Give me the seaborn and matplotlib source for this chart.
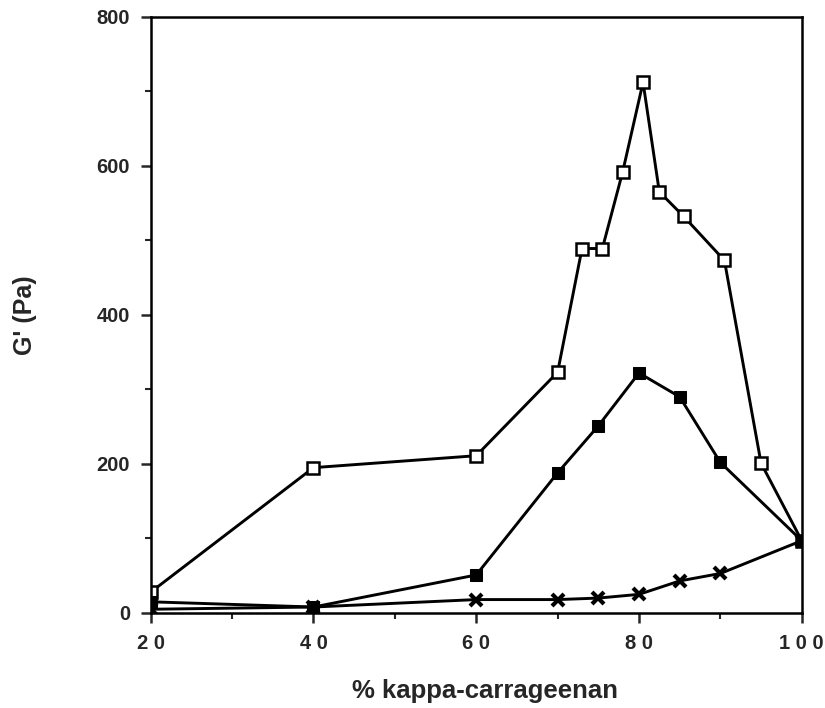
import matplotlib
matplotlib.use("Agg")
import matplotlib.pyplot as plt
from matplotlib.ticker import MultipleLocator
import seaborn as sns
import pandas as pd

# G' of mixed gels vs. kappa-carrageenan fraction
x_open = [20, 40, 60, 70, 73, 75.5, 78, 80.5, 82.5, 85.5, 90.5, 95, 100]
g_open = [28, 195, 211, 323, 489, 489, 592, 712, 565, 532, 473, 201, 97]

x_filled = [20, 40, 60, 70, 75, 80, 85, 90, 100]
g_filled = [15, 8, 51, 188, 251, 322, 290, 202, 97]

x_cross = [20, 40, 60, 70, 75, 80, 85, 90, 100]
g_cross = [5, 8, 18, 18, 20, 25, 43, 53, 97]

x_ticks = [20, 40, 60, 80, 100]
x_tick_labels = ["2 0", "4 0", "6 0", "8 0", "1 0 0"]
y_ticks = [0, 200, 400, 600, 800]

sns.set_style("ticks")
plt.rcParams["font.family"] = ["Liberation Sans", "DejaVu Sans"]
plt.rcParams["font.weight"] = "bold"

fig = plt.figure(figsize=(8.25, 7.08), dpi=100)
ax = fig.add_axes([0.1827, 0.1342, 0.9718 - 0.1827, 0.9764 - 0.1342])

df_open = pd.DataFrame({"x": x_open, "g": g_open})
df_filled = pd.DataFrame({"x": x_filled, "g": g_filled})
df_cross = pd.DataFrame({"x": x_cross, "g": g_cross})

line_kw = dict(color="black", linewidth=2.1, estimator=None, sort=False, ax=ax)
sns.lineplot(data=df_open, x="x", y="g", marker="s", markersize=8,
             markerfacecolor="white", markeredgecolor="black",
             markeredgewidth=1.8, **line_kw)
sns.lineplot(data=df_filled, x="x", y="g", marker="s", markersize=8,
             markerfacecolor="black", markeredgecolor="black", **line_kw)
sns.lineplot(data=df_cross, x="x", y="g", marker="x", markersize=8.5,
             markeredgewidth=3.0, markeredgecolor="black", **line_kw)

ax.set_xlim(20, 100)
ax.set_ylim(0, 800)
ax.set_xticks(x_ticks)
ax.set_xticklabels(x_tick_labels)
ax.set_yticks(y_ticks)
ax.xaxis.set_minor_locator(MultipleLocator(10))
ax.yaxis.set_minor_locator(MultipleLocator(100))

ax.tick_params(which="major", direction="out", length=7, width=1.8,
               labelsize=14.5, pad=8)
ax.tick_params(which="minor", direction="out", length=4.5, width=1.5)
ax.tick_params(axis="x", which="both", top=False)
ax.tick_params(axis="y", which="both", right=False)
for lbl in ax.get_xticklabels() + ax.get_yticklabels():
    lbl.set_fontweight("bold")

for side in ["left", "bottom", "right", "top"]:
    ax.spines[side].set_visible(True)
    ax.spines[side].set_linewidth(1.8)
    ax.spines[side].set_color("black")

ax.set_xlabel("% kappa-carrageenan", fontsize=18.5, fontweight="bold")
ax.set_ylabel("G' (Pa)", fontsize=18, fontweight="bold")
ax.xaxis.set_label_coords(0.5135, -0.110)
ax.yaxis.set_label_coords(-0.175, 0.5)

fig.savefig("out.png", dpi=100, facecolor="white")
